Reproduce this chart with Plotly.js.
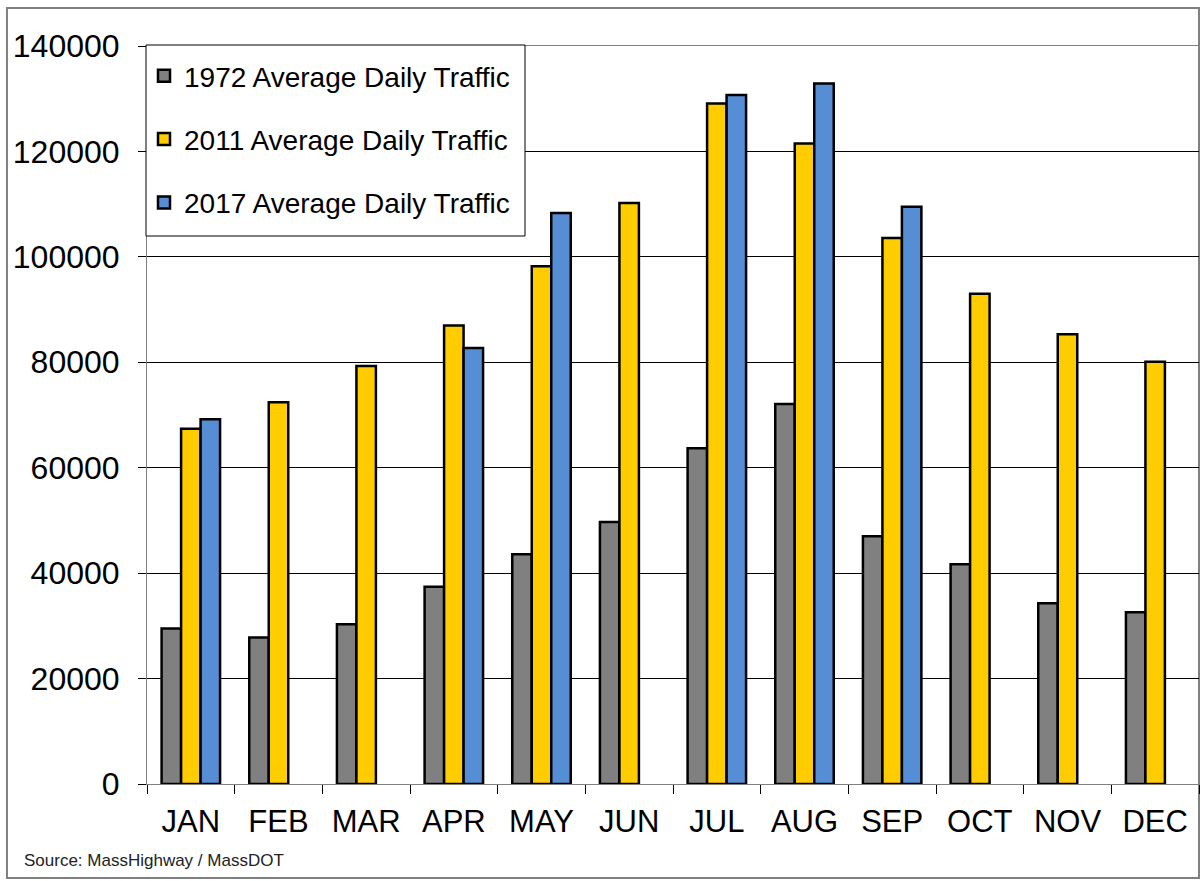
<!DOCTYPE html>
<html>
<head>
<meta charset="utf-8">
<script src="https://cdn.plot.ly/plotly-3.0.1.min.js"></script>
<style>
  html, body { margin: 0; padding: 0; background: #fff; }
  #chart { width: 1202px; height: 881px; }
</style>
</head>
<body>
<div id="chart"></div>
<script>
const months = ["JAN","FEB","MAR","APR","MAY","JUN","JUL","AUG","SEP","OCT","NOV","DEC"];
const adt1972 = [29500, 27800, 30300, 37400, 43600, 49700, 63700, 72100, 47000, 41700, 34300, 32600];
const adt2011 = [67400, 72400, 79300, 87000, 98200, 110200, 129100, 121500, 103600, 93000, 85300, 80100];
const adt2017 = [69200, null, null, 82700, 108300, null, 130700, 132900, 109500, null, null, null];
const seriesNames = ["1972 Average Daily Traffic", "2011 Average Daily Traffic", "2017 Average Daily Traffic"];
const yTicks = [0, 20000, 40000, 60000, 80000, 100000, 120000, 140000];

const colors = ["#808080", "#FFCC00", "#558ED5"];
const font = "Liberation Sans, Arial, sans-serif";

const traces = [adt1972, adt2011, adt2017].map((vals, i) => ({
  type: "bar",
  x: months,
  y: vals,
  name: seriesNames[i],
  legendgroup: "g" + i,
  marker: { color: colors[i], line: { color: "#000", width: 2.5 } },
  hoverinfo: "x+y+name"
}));

const plotW = 1052, plotH = 738;

const layout = {
  width: 1202,
  height: 881,
  margin: { l: 147, r: 3, t: 46, b: 97 },
  paper_bgcolor: "#fff",
  plot_bgcolor: "#fff",
  barmode: "group",
  bargap: 0.333,
  bargroupgap: 0,
  font: { family: font, color: "#000" },
  showlegend: true,
  legend: {
    x: -3 / plotW, y: 1 - 5 / plotH, xanchor: "left", yanchor: "top",
    bgcolor: "rgba(0,0,0,0)",
    borderwidth: 0,
    font: { family: font, size: 28, color: "#000" },
    tracegroupgap: 24,
    itemwidth: 30
  },
  xaxis: {
    type: "category",
    tickson: "boundaries",
    ticks: "outside",
    ticklen: 9,
    tickcolor: "#000",
    showline: true,
    linecolor: "#808080",
    linewidth: 1,
    mirror: true,
    showgrid: false,
    tickfont: { family: font, size: 31, color: "#000" },
    ticklabelstandoff: 10
  },
  yaxis: {
    range: [0, 140000],
    tickvals: yTicks,
    ticktext: yTicks.map(String),
    ticks: "outside",
    ticklen: 8,
    tickcolor: "#000",
    showline: true,
    linecolor: "#808080",
    linewidth: 1,
    mirror: true,
    showgrid: true,
    gridcolor: "#000",
    gridwidth: 1,
    zeroline: false,
    tickfont: { family: font, size: 32, color: "#000" },
    ticklabelstandoff: 12
  },
  shapes: [{
    type: "rect",
    xref: "paper", yref: "paper",
    x0: -0.1331, x1: 1.0, y0: -0.1274, y1: 1.0515,
    line: { color: "#808080", width: 2 },
    fillcolor: "rgba(0,0,0,0)",
    layer: "below"
  }, {
    type: "rect",
    xref: "paper", yref: "paper",
    x0: -1 / plotW, x1: (525 - 147) / plotW, y0: (784 - 236) / plotH, y1: 1 + 1 / plotH,
    line: { color: "#000", width: 1 },
    fillcolor: "#fff",
    layer: "above"
  }],
  annotations: [{
    text: "Source: MassHighway / MassDOT",
    xref: "paper", yref: "paper",
    x: -0.1188, y: -0.103,
    xanchor: "left", yanchor: "middle",
    showarrow: false,
    font: { family: "Liberation Sans Narrow, Arial Narrow, Liberation Sans, sans-serif", size: 17, color: "#222" }
  }]
};

Plotly.newPlot("chart", traces, layout, { displayModeBar: false, staticPlot: false });
</script>
</body>
</html>
